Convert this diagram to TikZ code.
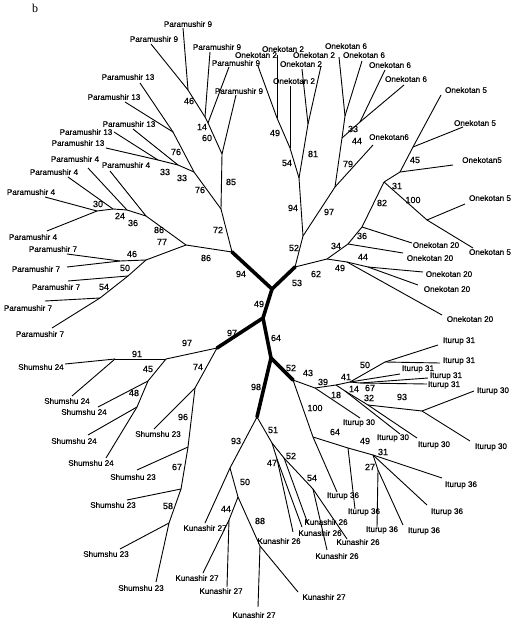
\documentclass[tikz,border=0pt]{standalone}
\usepackage{fontspec}
\setmainfont{Liberation Sans}[FakeBold=0.5]
\newfontfamily\serifb{Liberation Serif}
\begin{document}
\begin{tikzpicture}[x=1pt,y=-1pt,
  br/.style={line width=0.9pt},
  thk/.style={line width=3.6pt,line cap=round,line join=round},
  lf/.style={font=\fontsize{8.1}{8}\selectfont,inner sep=0pt},
  bs/.style={font=\fontsize{9}{9}\selectfont,inner sep=0pt}]
\useasboundingbox (0,0) rectangle (513,623);
\node[font=\serifb\fontsize{12}{12}\selectfont,inner sep=0pt] (blab) at (35,8) {b};
% junctions
\foreach \n/\x/\y in {A/232/252,B/295/267,C/272/289,D/263/318,E/217/348,F/271/358,G/293/380,H/257/417,
 n46/188/90,n14/205/117,n60/208/123,P3/222/154,P2/221/209,P1/186/245,
 J13a/173/132,J13b/158/160,J33p/178/165,J76/194/172,
 J30/97/211,J24/113/209,J36p/127/210,J86/146/216,
 J46b/120/261,J46/146/260,J50/128/276,J54/100/298,
 O49/277/118,O54/290/148,O81/308/124,O94/299/178,O52/303/236,
 O6ab/345/116,O33/360/122,O44/342/138,O79/335/187,
 J62/327/259,J49o/347/262,J44o/368/267,J34o/348/244,J36o/362/227,J82/384/182,J45/400/172,J45b/413/147,J100/427/220,
 J97s/166/359,J91/115/359,J45s/148/381,J48/137/407,J74/195/388,J96/188/447,J67/181/489,J58/169/523,
 K93/230/468,K50/238/497,K44/229/520,K88/260/546,K51/272/443,K47/277/459,K52/284/458,K54/313/489,
 I43/315/388,I39/336/385,I41/350/382,I50/385/362,I67/360/383,I14/345/391,I32/368/405,I93/422/411,
 I100/313/437,I49/348/448,I31/373/455,I27/378/470}
  \coordinate (\n) at (\x,\y);
% leaves: name / end x / end y / label x / label y / text
\foreach \n/\x/\y/\lx/\ly/\t in {
 p9a/183/28/188/24/Paramushir 9, p9b/151/44/154/39/Paramushir 9, p9c/210/52/217/47/Paramushir 9,
 p9d/229/67/236/63/Paramushir 9, p9e/236/95/239/91/Paramushir 9,
 p13a/140/83/128/77/Paramushir 13, p13b/125/102/114/97/Paramushir 13, p13c/133/129/129/124/Paramushir 13,
 p13d/114/132/86/132/Paramushir 13, p13e/106/148/78/143/Paramushir 13,
 p4a/88/168/75/159/Paramushir 4, p4b/110/171/126/165/Paramushir 4, p4c/68/177/54/172/Paramushir 4,
 p4d/45/197/31/192/Paramushir 4, p4e/47/231/33/237/Paramushir 4,
 p7a/67/254/53/249/Paramushir 7, p7b/67/267/36/269/Paramushir 7, p7c/68/281/56/287/Paramushir 7,
 p7d/45/301/28/308/Paramushir 7, p7e/52/328/40/334/Paramushir 7,
 o2a/258/66/256/55/Onekotan 2, o2b/277/55/283/49/Onekotan 2, o2c/321/66/314/55/Onekotan 2,
 o2d/302/69/301/64/Onekotan 2, o2e/290/86/294/81/Onekotan 2,
 o6a/339/57/346/46/Onekotan 6, o6b/362/61/364/55/Onekotan 6, o6c/385/70/390/65/Onekotan 6,
 o6d/404/85/406/79/Onekotan 6, o6e/373/145/389/137/Onekotan6,
 o5a/441/95/466/90/Onekotan 5, o5b/463/127/475/123/Onekotan 5, o5c/453/165/482/160/Onekotan5,
 o5d/465/204/490/198/Onekotan 5, o5e/473/248/490/252/Onekotan 5,
 o20a/412/243/436/245/Onekotan 20, o20b/403/253/430/258/Onekotan 20, o20c/423/272/449/274/Onekotan 20,
 o20d/418/285/447/289/Onekotan 20, o20e/442/315/470/319/Onekotan 20,
 s24a/65/364/41/367/Shumshu 24, s24b/72/396/67/401/Shumshu 24, s24c/98/407/84/412/Shumshu 24,
 s24d/88/435/74/441/Shumshu 24, s24e/106/458/91/463/Shumshu 24,
 s23a/154/429/158/434/Shumshu 23, s23b/137/470/133/477/Shumshu 23, s23c/127/500/113/505/Shumshu 23,
 s23d/120/549/106/554/Shumshu 23, s23e/156/582/141/588/Shumshu 23,
 k27a/205/523/205/528/Kunashir 27, k27b/203/573/197/578/Kunashir 27, k27c/227/587/221/591/Kunashir 27,
 k27d/258/607/254/615/Kunashir 27, k27e/298/592/324/597/Kunashir 27,
 k26a/293/532/279/541/Kunashir 26, k26b/302/527/320/533/Kunashir 26, k26c/308/524/326/522/Kunashir 26,
 k26d/327/550/337/556/Kunashir 26, k26e/347/539/358/542/Kunashir 26,
 i31a/438/345/459/341/Iturup 31, i31b/440/363/459/361/Iturup 31, i31c/400/374/418/369/Iturup 31,
 i31d/428/378/446/376/Iturup 31, i31e/427/384/444/385/Iturup 31,
 i30a/360/418/359/423/Iturup 30, i30b/400/434/393/438/Iturup 30, i30c/417/438/434/445/Iturup 30,
 i30d/474/391/493/391/Iturup 30, i30e/470/441/491/447/Iturup 30,
 i36a/337/492/343/496/Iturup 36, i36b/355/509/364/512/Iturup 36, i36c/442/478/461/485/Iturup 36,
 i36d/427/505/447/512/Iturup 36, i36e/377/527/382/530/Iturup 36, i36f/403/525/424/531/Iturup 36}
 {\coordinate (e\n) at (\x,\y); \node[lf] (l\n) at (\lx,\ly) {\t};}
% bootstrap values
\foreach \x/\y/\v [count=\i] in {189/101/46,202/127/14,207/138/60,231/182/85,218/230/72,
 176/152/76,165/172/33,182/178/33,200/190/76,
 98/204/30,120/216/24,133/223/36,159/230/86,162/242/77,
 132/254/46,125/268/50,104/287/54,206/258/86,241/274/94,
 275/133/49,287/163/54,313/154/81,293/208/94,294/248/52,
 353/129/33,357/141/44,348/164/79,329/212/97,
 316/274/62,297/283/53,363/257/44,340/268/49,336/246/34,362/236/36,382/203/82,397/186/31,413/200/100,415/160/45,
 259/304/49,232/333/97,276/338/64,291/368/52,256/387/98,
 187/343/97,137/354/91,148/369/45,134/393/48,198/367/74,183/417/96,177/467/67,168/506/58,
 236/441/93,245/482/50,226/509/44,260/521/88,273/430/51,272/463/47,291/456/52,312/478/54,
 308/373/43,315/408/100,323/382/39,336/395/18,346/377/41,354/389/14,365/365/50,370/388/67,369/398/32,402/397/93,
 335/432/64,365/441/49,383/452/31,370/467/27}
 \node[bs] (b\i) at (\x,\y) {\v};
% thick central edges
\draw[thk] (A) -- (C) -- (B);
\draw[thk] (C) -- (D) -- (E);
\draw[thk] (D) -- (F) -- (G);
\draw[thk] (F) -- (H);
% thin edges
\foreach \a/\b in {A/P1,A/P2,P2/P3,P2/J76,P3/n60,P3/ep9e,n60/n14,n60/ep9d,n14/n46,n14/ep9c,n46/ep9a,n46/ep9b,
 J76/J13a,J76/J33p,J13a/ep13a,J13a/ep13b,J33p/ep13c,J33p/J13b,J13b/ep13d,J13b/ep13e,
 P1/J86,J86/ep4b,J86/J36p,J36p/ep4a,J36p/J24,J24/ep4c,J24/J30,J30/ep4d,J30/ep4e,
 P1/J46,J46/J46b,J46b/ep7a,J46b/ep7b,J46/J50,J50/ep7c,J50/J54,J54/ep7d,J54/ep7e,
 B/O52,O52/O94,O94/O54,O54/O49,O54/eo2e,O49/eo2a,O49/eo2b,O94/O81,O81/eo2c,O81/eo2d,
 O52/O79,O79/eo6e,O79/O44,O44/O6ab,O6ab/eo6a,O6ab/eo6b,O44/O33,O33/eo6c,O33/eo6d,
 B/J62,J62/J49o,J49o/J44o,J44o/eo20c,J44o/eo20d,J49o/eo20e,J62/J34o,J34o/eo20b,J34o/J36o,J36o/eo20a,
 J36o/J82,J82/J45,J45/eo5c,J45/J45b,J45b/eo5a,J45b/eo5b,J82/J100,J100/eo5d,J100/eo5e,
 E/J97s,J97s/J91,J91/es24a,J91/es24b,J97s/J45s,J45s/es24c,J45s/J48,J48/es24d,J48/es24e,
 E/J74,J74/es23a,J74/J96,J96/es23b,J96/J67,J67/es23c,J67/J58,J58/es23d,J58/es23e,
 H/K93,K93/ek27a,K93/K50,K50/K44,K44/ek27b,K44/ek27c,K50/K88,K88/ek27d,K88/ek27e,
 H/K51,K51/K47,K47/ek26a,K47/ek26b,K51/K52,K52/ek26c,K52/K54,K54/ek26d,K54/ek26e,
 G/I43,I43/ei30a,I43/I39,I39/I41,I41/I50,I50/ei31a,I50/ei31b,I41/ei31c,I41/I67,I67/ei31d,I67/ei31e,
 I39/I14,I14/ei30b,I14/I32,I32/ei30c,I32/I93,I93/ei30d,I93/ei30e,
 G/I100,I100/ei36a,I100/I49,I49/ei36b,I49/I31,I31/ei36c,I31/ei36d,I31/I27,I27/ei36e,I27/ei36f}
 \draw[br] (\a) -- (\b);
\end{tikzpicture}
\end{document}
